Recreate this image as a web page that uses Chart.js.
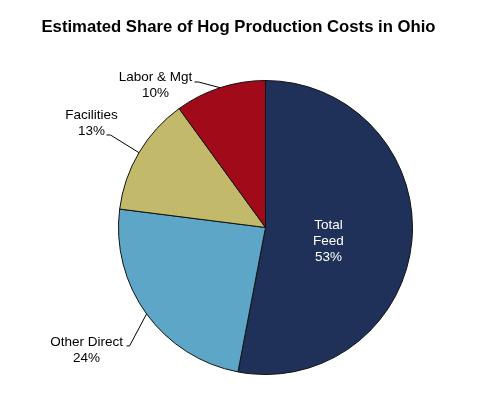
<!DOCTYPE html>
<html lang="en">
  <head>
    <meta charset="UTF-8" />
    <title>Estimated Share of Hog Production Costs in Ohio</title>
    <style>
      * {
        margin: 0;
        padding: 0;
        box-sizing: border-box;
      }
      body {
        background: white;
      }
      .chartBox {
        width: 493px;
        height: 405px;
      }
    </style>
  </head>
  <body>
    <div class="chartBox">
      <canvas id="myChart" width="493" height="405"></canvas>
    </div>

    <script src="https://cdn.jsdelivr.net/npm/chart.js"></script>

    <script>
      const categories = ["Total Feed", "Other Direct", "Facilities", "Labor & Mgt"];
      const shares = [53, 24, 13, 10];
      const sliceColors = ["#1f3158", "#5ea6c8", "#c3b96b", "#a10a18"];

      // label placement, relative to the point on the rim at each slice's mid angle
      const labelSpots = [
        { inside: true, dx: 0, dy: 0 },
        { dx: -60, dy: 36, elbow: [-17, 32], end: [-20, 32] },
        { dx: -47.5, dy: -29.7, elbow: [-28.5, -17.7], end: [-32.5, -17.7] },
        { dx: -64.6, dy: -2.7, elbow: [-21.6, -5.7], end: [-25.6, -5.7] },
      ];

      const chartTitle = {
        id: "chartTitle",
        afterDraw(chart) {
          const { ctx } = chart;
          ctx.save();
          ctx.fillStyle = "#000";
          ctx.font = "bold 16.7px 'Liberation Sans', Arial, sans-serif";
          ctx.textAlign = "center";
          ctx.textBaseline = "middle";
          ctx.fillText("Estimated Share of Hog Production Costs in Ohio", 238.5, 27.5);
          ctx.restore();
        },
      };

      const sliceLabels = {
        id: "sliceLabels",
        afterDatasetsDraw(chart) {
          const { ctx, data } = chart;
          const meta = chart.getDatasetMeta(0);
          ctx.save();
          ctx.font = "13.5px 'Liberation Sans', Arial, sans-serif";
          ctx.textAlign = "center";
          ctx.textBaseline = "middle";
          meta.data.forEach((arc, i) => {
            const mid = (arc.startAngle + arc.endAngle) / 2;
            const spot = labelSpots[i];
            const pct = data.datasets[0].data[i] + "%";
            if (spot.inside) {
              const r = arc.outerRadius * 0.43;
              const x = arc.x + r * Math.cos(mid);
              const y = arc.y + r * Math.sin(mid) + 8;
              const words = data.labels[i].split(" ");
              const lines = [...words, pct];
              ctx.fillStyle = "#fff";
              lines.forEach((t, k) => {
                ctx.fillText(t, x, y + (k - (lines.length - 1) / 2) * 16);
              });
              return;
            }
            const ax = arc.x + arc.outerRadius * Math.cos(mid);
            const ay = arc.y + arc.outerRadius * Math.sin(mid);
            ctx.strokeStyle = "#000";
            ctx.lineWidth = 1;
            ctx.beginPath();
            ctx.moveTo(ax, ay);
            ctx.lineTo(ax + spot.elbow[0], ay + spot.elbow[1]);
            ctx.lineTo(ax + spot.end[0], ay + spot.end[1]);
            ctx.stroke();
            ctx.fillStyle = "#000";
            const tx = ax + spot.dx;
            const ty = ay + spot.dy;
            ctx.fillText(data.labels[i], tx, ty - 8);
            ctx.fillText(pct, tx, ty + 8);
          });
          ctx.restore();
        },
      };

      const config = {
        type: "pie",
        data: {
          labels: categories,
          datasets: [
            {
              data: shares,
              backgroundColor: sliceColors,
              borderColor: "#111",
              borderWidth: 1,
            },
          ],
        },
        options: {
          responsive: false,
          animation: false,
          devicePixelRatio: 1,
          layout: {
            padding: { top: 80, bottom: 30, left: 118, right: 80 },
          },
          plugins: {
            legend: { display: false },
            tooltip: { enabled: false },
            title: { display: false },
          },
        },
        plugins: [chartTitle, sliceLabels],
      };

      const myChart = new Chart(document.getElementById("myChart"), config);
    </script>
  </body>
</html>
